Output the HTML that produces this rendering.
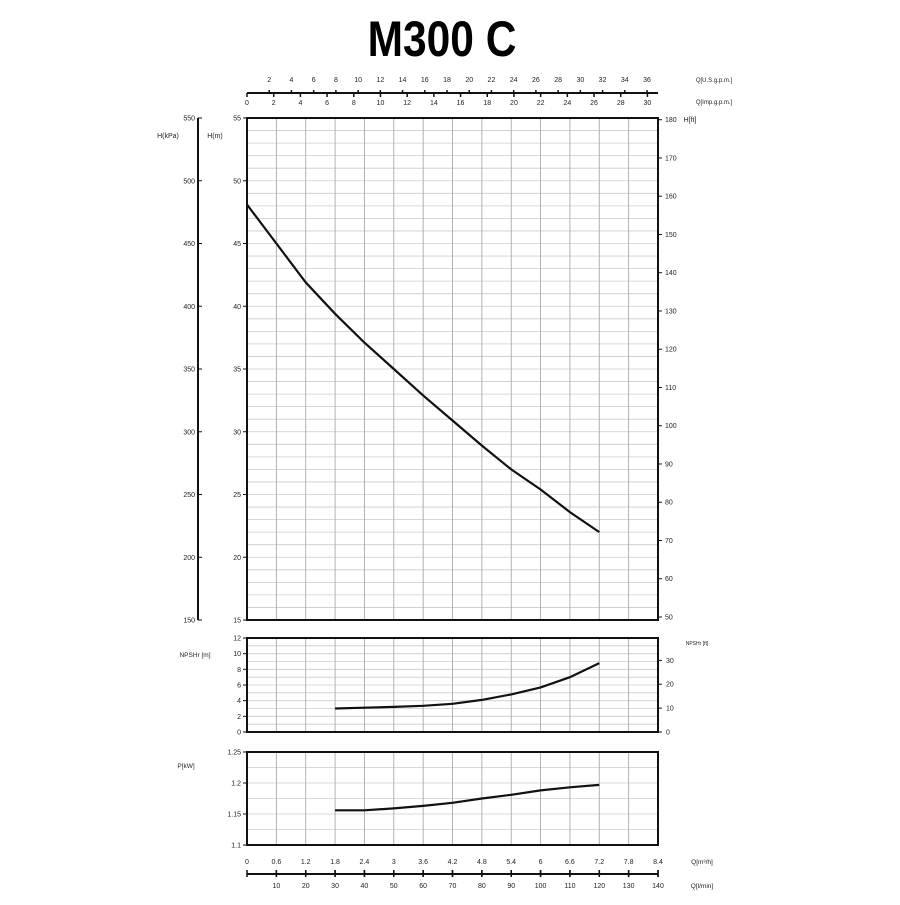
<!DOCTYPE html>
<html><head><meta charset="utf-8"><style>
body{margin:0;background:#fff;width:900px;height:900px;overflow:hidden}
svg{font-family:"Liberation Sans",sans-serif}
</style></head><body>
<svg id="c" width="900" height="900" xmlns="http://www.w3.org/2000/svg">
<text x="442" y="56" text-anchor="middle" font-size="50" font-weight="bold" transform="translate(442 0) scale(0.85 1) translate(-442 0)">M300 C</text>
</svg>
<script>
const qHead=[0,0.6,1.2,1.8,2.4,3.0,3.6,4.2,4.8,5.4,6.0,6.6,7.2];
const head=[48.1,45.0,41.9,39.4,37.1,35.0,32.9,30.9,28.9,27.0,25.4,23.6,22.0];
const qNpsh=[1.8,2.4,3.0,3.6,4.2,4.8,5.4,6.0,6.6,7.2];
const npsh=[3.0,3.1,3.2,3.35,3.6,4.1,4.8,5.7,7.0,8.8];
const qPow=[1.8,2.4,3.0,3.6,4.2,4.8,5.4,6.0,6.6,7.2];
const pow=[1.156,1.156,1.159,1.163,1.168,1.175,1.181,1.188,1.193,1.197];
const qTicks=[0,0.6,1.2,1.8,2.4,3,3.6,4.2,4.8,5.4,6,6.6,7.2,7.8,8.4];
const lminTicks=[10,20,30,40,50,60,70,80,90,100,110,120,130,140];
const usTicks=[2,4,6,8,10,12,14,16,18,20,22,24,26,28,30,32,34,36];
const impTicks=[0,2,4,6,8,10,12,14,16,18,20,22,24,26,28,30];
const hTicks=[15,20,25,30,35,40,45,50,55];
const kpaTicks=[150,200,250,300,350,400,450,500,550];
const ftTicks=[50,60,70,80,90,100,110,120,130,140,150,160,170,180];
const npshTicks=[0,2,4,6,8,10,12];
const npshFtTicks=[0,10,20,30];
const powTicks=[1.1,1.15,1.2,1.25];

const L=247,R=658;
const X=q=>L+q/8.4*(R-L);
const HT=118,HB=620;
const yH=h=>HB-(h-15)/40*(HB-HT);
const yKpa=k=>HB-(k-150)/400*(HB-HT);
const yFt=f=>yH(f*0.3048);
const NT=638,NB=732;
const yN=v=>NB-v/12*(NB-NT);
const yNft=f=>yN(f*0.3048);
const PT=752,PB=845;
const yP=v=>PB-(v-1.1)/0.15*(PB-PT);
const s=document.getElementById('c');
const NS='http://www.w3.org/2000/svg';
function el(t,a,txt){const e=document.createElementNS(NS,t);for(const k in a)e.setAttribute(k,a[k]);if(txt!==undefined)e.textContent=txt;s.appendChild(e);return e;}
function line(x1,y1,x2,y2,c,w){return el('line',{x1,y1,x2,y2,stroke:c,'stroke-width':w});}
function txt(x,y,t,anchor,size){return el('text',{x,y,'text-anchor':anchor||'middle','font-size':size||7,fill:'#222'},t);}

function panel(top,bot,nh,name){
  for(let i=1;i<nh;i++){const y=top+(bot-top)*i/nh;const g=line(L,y,R,y,'#ccc',0.8);
  
  }
  for(let i=1;i<14;i++){const x=X(i*0.6);const g=line(x,top,x,bot,'#aaa',0.9);
  
  }
  const r=el('rect',{x:L,y:top,width:R-L,height:bot-top,fill:'none',stroke:'#111','stroke-width':2});
  
  
}
panel(HT,HB,40,'head-panel');
panel(NT,NB,12,'npsh-panel');
panel(PT,PB,6,'power-panel');

function curve(qs,vs,yf,name){
  const d=qs.map((q,i)=>(i?'L':'M')+X(q).toFixed(1)+' '+yf(vs[i]).toFixed(1)).join(' ');
  const p=el('path',{d,fill:'none',stroke:'#111','stroke-width':2.2});
  
  
}
curve(qHead,head,yH,'head-curve');
curve(qNpsh,npsh,yN,'npsh-curve');
curve(qPow,pow,yP,'power-curve');

hTicks.forEach(h=>{line(L-4,yH(h),L,yH(h),'#111',1);txt(L-6,yH(h)+2.5,h,'end',7);});
line(198,HT,198,HB,'#111',2);
kpaTicks.forEach(k=>{line(198,yKpa(k),202,yKpa(k),'#111',1);txt(195,yKpa(k)+2.5,k,'end',7);});
txt(168,138,'H(kPa)','middle',7);txt(215,138,'H(m)','middle',7);
ftTicks.forEach(f=>{line(R,yFt(f),R+4,yFt(f),'#111',1);txt(R+7,yFt(f)+2.5,f,'start',7);});
txt(690,122,'H[ft]','middle',7);
npshTicks.forEach(v=>{line(L-4,yN(v),L,yN(v),'#111',1);txt(L-6,yN(v)+2.5,v,'end',7);});
npshFtTicks.forEach(f=>{line(R,yNft(f),R+4,yNft(f),'#111',1);txt(R+8,yNft(f)+2.5,f,'start',7);});
txt(195,657,'NPSHr [m]','middle',6.5);txt(697,645,'NPSHr [ft]','middle',5);
powTicks.forEach(v=>{line(L-4,yP(v),L,yP(v),'#111',1);txt(L-6,yP(v)+2.5,v,'end',7);});
txt(186,768,'P[kW]','middle',6.5);

line(L,93,R,93,'#111',2);
usTicks.forEach(u=>{const x=X(u*0.2271);line(x,90,x,94,'#111',1.5);txt(x,82,u);});
impTicks.forEach(u=>{const x=X(u*0.2728);line(x,93,x,97,'#111',1.5);txt(x,105,u);});
txt(714,82,'Q[U.S.g.p.m.]','middle',6);txt(714,104,'Q[Imp.g.p.m.]','middle',6);

line(L,874,R,874,'#111',2);
qTicks.forEach(q=>{const x=X(q);line(x,870,x,877,'#111',1.5);txt(x,864,q);});
lminTicks.forEach(v=>{const x=X(v*0.06);line(x,870,x,877,'#111',1.5);txt(x,888,v);});
txt(702,864,'Q[m³/h]','middle',6.5);txt(702,888,'Q[l/min]','middle',6.5);
</script>
</body></html>
